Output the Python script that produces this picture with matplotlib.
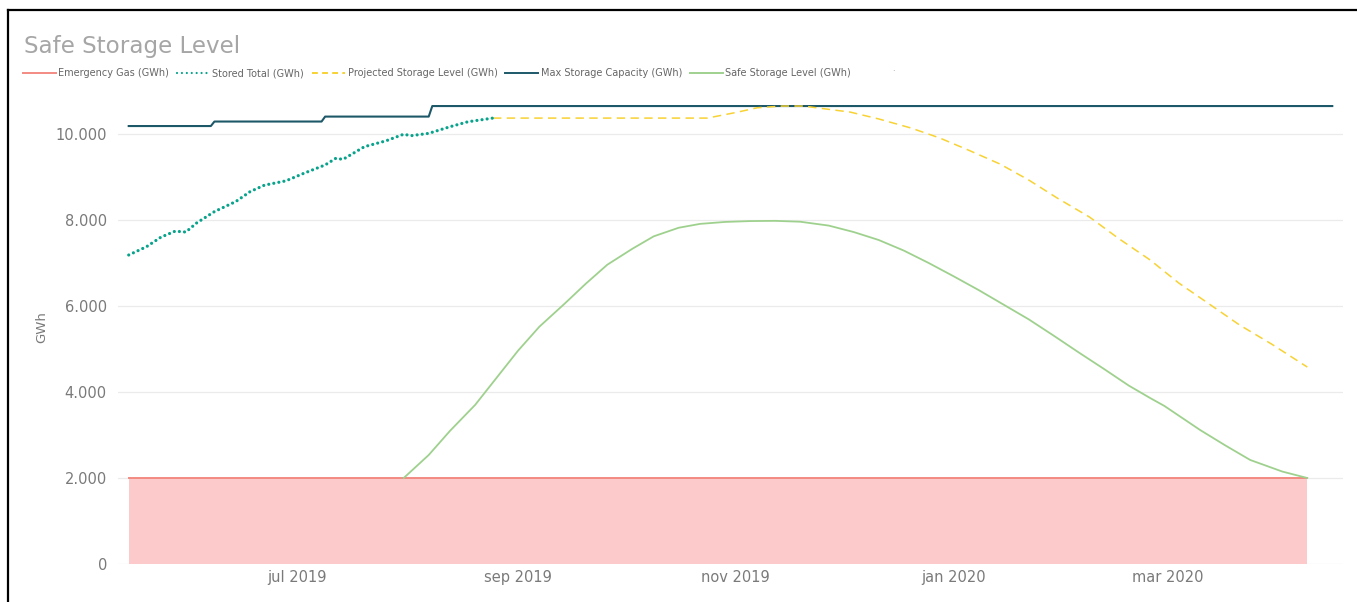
"""
Safe Storage Level: stored gas vs projected level, capacity and safe level (GWh)
"""

import numpy as np, matplotlib
matplotlib.use("Agg")
import matplotlib.pyplot as plt
from matplotlib.lines import Line2D

# --- data ---
emergency_dates = np.array(["2019-05-15", "2020-04-09"], dtype="datetime64[D]")
emergency_vals = [2000, 2000]

stored_dates = np.array([
    "2019-05-15", "2019-05-20", "2019-05-24", "2019-05-28", "2019-05-31", "2019-06-03",
    "2019-06-08", "2019-06-14", "2019-06-18", "2019-06-22", "2019-06-28", "2019-07-03",
    "2019-07-09", "2019-07-12", "2019-07-14", "2019-07-20", "2019-07-26", "2019-07-31",
    "2019-08-02", "2019-08-07", "2019-08-13", "2019-08-18", "2019-08-25"], dtype="datetime64[D]")
stored_vals = [7186, 7380, 7600, 7740, 7720, 7930,
               8195, 8430, 8660, 8810, 8910, 9085,
               9280, 9435, 9410, 9705, 9840, 9995,
               9960, 10015, 10170, 10285, 10370]

projected_dates = np.array([
    "2019-08-25", "2019-10-24", "2019-11-01", "2019-11-07", "2019-11-14", "2019-11-20",
    "2019-11-24", "2019-12-03", "2019-12-11", "2019-12-20", "2019-12-28", "2020-01-05",
    "2020-01-14", "2020-01-22", "2020-01-30", "2020-02-08", "2020-02-16", "2020-02-25",
    "2020-03-04", "2020-03-13", "2020-03-21", "2020-03-30", "2020-04-09"], dtype="datetime64[D]")
projected_vals = [10370, 10370, 10500, 10610, 10650, 10650,
                  10605, 10510, 10350, 10140, 9910, 9630,
                  9300, 8930, 8510, 8070, 7580, 7070,
                  6535, 6020, 5560, 5115, 4580]

capacity_dates = np.array([
    "2019-05-15", "2019-06-07", "2019-06-08", "2019-07-08", "2019-07-09",
    "2019-08-07", "2019-08-08", "2020-04-16"], dtype="datetime64[D]")
capacity_vals = [10185, 10185, 10290, 10290, 10405, 10405, 10650, 10650]

safe_dates = np.array([
    "2019-07-31", "2019-08-07", "2019-08-13", "2019-08-20", "2019-08-26", "2019-09-01",
    "2019-09-07", "2019-09-14", "2019-09-20", "2019-09-26", "2019-10-03", "2019-10-09",
    "2019-10-16", "2019-10-22", "2019-10-29", "2019-11-05", "2019-11-12", "2019-11-19",
    "2019-11-27", "2019-12-04", "2019-12-11", "2019-12-18", "2019-12-25", "2020-01-01",
    "2020-01-08", "2020-01-15", "2020-01-22", "2020-01-29", "2020-02-05", "2020-02-12",
    "2020-02-19", "2020-02-25", "2020-02-29", "2020-03-10", "2020-03-17", "2020-03-24",
    "2020-04-02", "2020-04-09"], dtype="datetime64[D]")
safe_vals = [2000, 2535, 3100, 3700, 4330, 4960,
             5520, 6050, 6520, 6960, 7330, 7620,
             7820, 7910, 7955, 7975, 7980, 7960,
             7870, 7720, 7535, 7290, 7000, 6690,
             6370, 6030, 5690, 5310, 4920, 4540,
             4150, 3860, 3675, 3116, 2760, 2420,
             2150, 2000]

x_ticks = np.array(["2019-07-01", "2019-09-01", "2019-11-01", "2020-01-01", "2020-03-01"],
                   dtype="datetime64[D]")
x_labels = ["jul 2019", "sep 2019", "nov 2019", "jan 2020", "mar 2020"]
y_ticks = [0, 2000, 4000, 6000, 8000, 10000]
y_labels = ["0", "2.000", "4.000", "6.000", "8.000", "10.000"]

series_names = ["Emergency Gas (GWh)", "Stored Total (GWh)", "Projected Storage Level (GWh)",
                "Max Storage Capacity (GWh)", "Safe Storage Level (GWh)"]

C_EMERG = "#f28b82"
C_FILL = "#fccaca"
C_STORED = "#07a38c"
C_PROJ = "#f8d233"
C_CAP = "#1d5868"
C_SAFE = "#9fd18e"
C_TEXT = "#7a7a7a"


def plot_safe_storage():
    plt.rcParams["font.family"] = ["DejaVu Sans"]
    W, H = 1357, 602
    fig = plt.figure(figsize=(W / 100, H / 100), dpi=100)
    ax = fig.add_axes([118 / W, (H - 564) / H, (1343 - 118) / W, 473 / H])

    ax.fill_between(emergency_dates, 0, emergency_vals, color=C_FILL, linewidth=0, zorder=1)
    ax.plot(emergency_dates, emergency_vals, color=C_EMERG, linewidth=1.4, zorder=2)
    ax.plot(safe_dates, safe_vals, color=C_SAFE, linewidth=1.3, zorder=3)
    ax.plot(capacity_dates, capacity_vals, color=C_CAP, linewidth=1.5, zorder=3)
    ax.plot(projected_dates, projected_vals, color=C_PROJ, linewidth=1.1,
            linestyle=(0, (5.5, 3.5)), zorder=3)
    ax.plot(stored_dates, stored_vals, color=C_STORED, linewidth=2.3,
            linestyle=(0, (0.01, 1.6)), dash_capstyle="round", zorder=4)

    ax.set_xlim(np.datetime64("2019-05-12"), np.datetime64("2020-04-19"))
    ax.set_ylim(0, 11000)
    ax.set_xticks(x_ticks)
    ax.set_xticklabels(x_labels)
    ax.set_yticks(y_ticks)
    ax.set_yticklabels(y_labels)
    ax.tick_params(axis="x", length=0, pad=4, labelsize=10.5, labelcolor=C_TEXT)
    ax.tick_params(axis="y", length=0, pad=8, labelsize=10.5, labelcolor=C_TEXT)
    ax.grid(axis="y", color="#ebebeb", linewidth=0.9, zorder=0)
    ax.set_axisbelow(True)
    for s in ax.spines.values():
        s.set_visible(False)

    ax.set_ylabel("GWh", fontsize=9.5, color=C_TEXT)
    ax.yaxis.set_label_coords((48 - 118) / 1225, 0.5)

    fig.text(24 / W, 1 - 47 / H, "Safe Storage Level", fontsize=16.6, color="#a6a6a6",
             va="center", ha="left")

    handles = [
        Line2D([], [], color=C_EMERG, linewidth=1.4),
        Line2D([], [], color=C_STORED, linewidth=1.6, linestyle=(0, (0.01, 2.2)),
               dash_capstyle="round"),
        Line2D([], [], color=C_PROJ, linewidth=1.4, linestyle=(0, (3, 2.2))),
        Line2D([], [], color=C_CAP, linewidth=1.4),
        Line2D([], [], color=C_SAFE, linewidth=1.4),
    ]
    fig.legend(handles, series_names, loc="center left", bbox_to_anchor=(18 / W, 1 - 73 / H),
               ncol=5, frameon=False, fontsize=7.0, labelcolor="#666666",
               handlelength=3.4, handletextpad=0.25, columnspacing=0.8, borderpad=0)
    fig.text(893 / W, 1 - 72 / H, "·", fontsize=6, color="#999999", ha="center", va="center")

    # black frame along top and left edge of the screenshot
    fig.add_artist(Line2D([8 / W, 1], [1 - 10 / H, 1 - 10 / H], color="black", linewidth=1.6))
    fig.add_artist(Line2D([8 / W, 8 / W], [0, 1 - 10 / H], color="black", linewidth=1.6))

    fig.savefig("out.png", dpi=100)


if __name__ == "__main__":
    plot_safe_storage()
